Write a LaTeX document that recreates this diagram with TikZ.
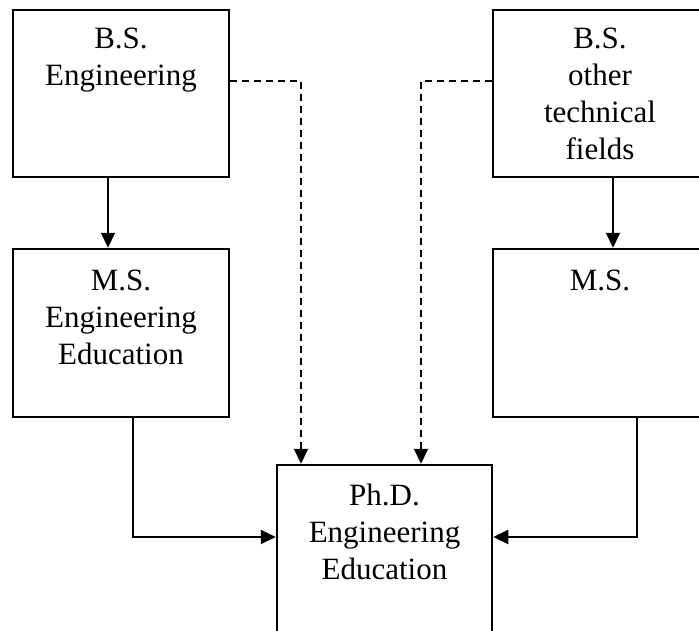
\documentclass[tikz,border=0pt]{standalone}
\usepackage{fontspec}
\setmainfont{Liberation Serif}
\usetikzlibrary{arrows.meta}
\begin{document}
\begin{tikzpicture}[x=1pt,y=-1pt,
  box/.style={draw=black,line width=2.5pt,inner sep=0pt,rectangle},
  txt/.style={inner sep=0pt,anchor=north,align=center,font={\fontsize{31}{37}\selectfont}},
  conn/.style={line width=2pt,-{Triangle[length=15pt,width=14pt]}},
  dconn/.style={line width=2pt,dash pattern=on 7pt off 5pt,-{Triangle[length=15pt,width=14pt]}}]
\useasboundingbox (0,0) rectangle (699,630);
\clip (0,0) rectangle (699,630);
% boxes
\node[box,minimum width=216pt,minimum height=167pt] (bse) at (121,93.5) {};
\node[box,minimum width=214pt,minimum height=167pt] (bso) at (600,93.5) {};
\node[box,minimum width=216pt,minimum height=168pt] (mse) at (121,333) {};
\node[box,minimum width=214pt,minimum height=168pt] (mso) at (600,333) {};
\node[box,minimum width=215pt,minimum height=200pt] (phd) at (384.5,565) {};
% texts
\node[txt] (tbse) at (121,27.5) {B.S.\\Engineering};
\node[txt] (tbso) at (600,27.5) {B.S.\\other\\technical\\fields};
\node[txt] (tmse) at (121,269.5) {M.S.\\Engineering\\Education};
\node[txt] (tmso) at (600,269.5) {M.S.};
\node[txt] (tphd) at (384.5,484) {Ph.D.\\Engineering\\Education};
% coordinates
\coordinate (c1) at (301,81);
\coordinate (c2) at (421,81);
\coordinate (c3) at (133,537);
\coordinate (c4) at (637,537);
% connectors
\draw[conn] (bse.south -| 108,0) -- (mse.north -| 108,0);
\draw[conn] (bso.south -| 613,0) -- (mso.north -| 613,0);
\draw[conn] (mse.south -| c3) -- (c3) -- (phd.west |- c3);
\draw[conn] (mso.south -| c4) -- (c4) -- (phd.east |- c4);
\draw[dconn] (bse.east |- c1) -- (c1) -- (phd.north -| c1);
\draw[dconn] (bso.west |- c2) -- (c2) -- (phd.north -| c2);
\end{tikzpicture}
\end{document}
